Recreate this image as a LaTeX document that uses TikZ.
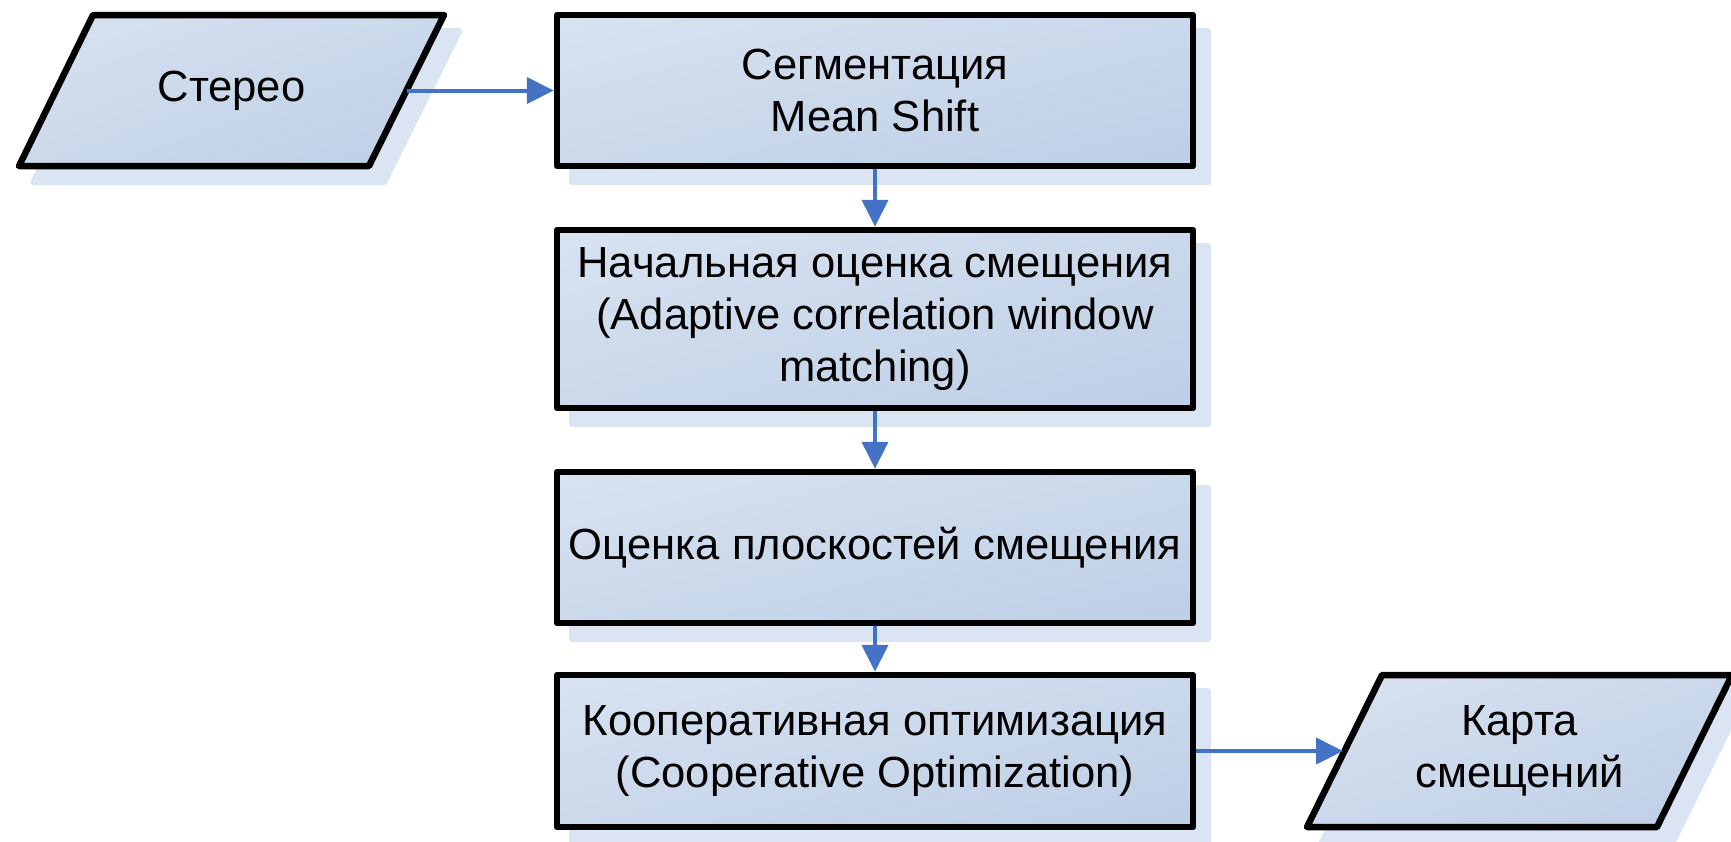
\documentclass[tikz,border=0pt]{standalone}
\usepackage{fontspec}
\setmainfont{Liberation Sans}
\usetikzlibrary{arrows.meta, shadows}
\definecolor{shadowblue}{HTML}{DAE4F3}
\definecolor{arrowblue}{HTML}{4472C4}
% diagonal gradient in the shape's own box: light at top-left, dark at bottom-right
\pgfdeclarefunctionalshading{boxdiag}{\pgfpoint{-50bp}{-50bp}}{\pgfpoint{50bp}{50bp}}{}{
  exch 50 add exch 50 exch sub add 200 div
  dup dup
  -0.212 mul 0.902 add
  3 1 roll
  -0.160 mul 0.929 add
  exch
  -0.086 mul 0.965 add
}
\begin{document}
\begin{tikzpicture}[x=1pt,y=-1pt,
  shapelook/.style={draw=black, line width=6.5pt, line join=round,
    shading=boxdiag,
    general shadow={shadow xshift=15pt, shadow yshift=-16pt, fill=shadowblue,
      draw=shadowblue, line width=6.5pt, line join=round}},
  label/.style={font=\fontsize{43.6}{52}\selectfont, align=center, inner sep=0pt},
  procbox/.style={shapelook, label, rectangle, minimum width=636pt},
  flow/.style={draw=arrowblue, line width=4pt, -{Triangle[length=27pt,width=26pt]}}
]
\useasboundingbox (0,0) rectangle (1731,841);
% input parallelogram
\path[shapelook] (19,166) -- (93,15) -- (444,15) -- (369,166) -- cycle;
\node[label] (stereo) at (231.5,90.5) {Стерео};
\coordinate (stereoR) at (407,90.5);
% output parallelogram
\path[shapelook] (1307,827) -- (1382,675) -- (1732,675) -- (1657,827) -- cycle;
\node[label] (map) at (1519.5,751) {Карта\\смещений};
\coordinate (mapL) at (1343,751);
% process boxes
\node[procbox, minimum height=151pt] (seg) at (875,90.5) {Сегментация\\Mean Shift};
\node[procbox, minimum height=178pt] (init) at (875,319) {Начальная оценка смещения\\(Adaptive correlation window\\matching)};
\node[procbox, minimum height=151pt] (plane) at (875,547.5) {Оценка плоскостей смещения};
\node[procbox, minimum height=152pt] (coop) at (875,751) {Кооперативная оптимизация\\(Cooperative Optimization)};
% connectors
\draw[flow] (stereoR) -- (seg.west);
\draw[flow] (seg.south) -- (init.north);
\draw[flow] (init.south) -- (plane.north);
\draw[flow] (plane.south) -- (coop.north);
\draw[flow] (coop.east) -- (mapL);
\end{tikzpicture}
\end{document}
